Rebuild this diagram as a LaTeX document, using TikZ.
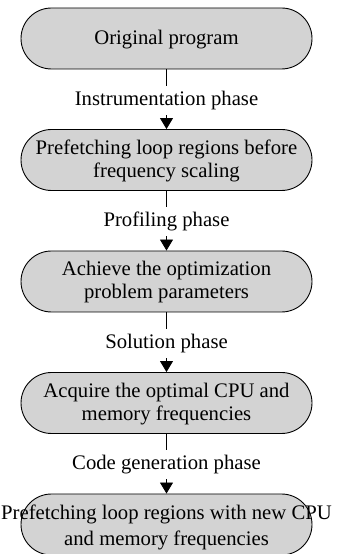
\documentclass[tikz,border=0pt]{standalone}
\usepackage{fontspec}
\setmainfont{Liberation Serif}
\usetikzlibrary{arrows.meta}
\definecolor{boxgray}{HTML}{D3D3D3}
\tikzset{
  x=1pt, y=1pt,
  phasebox/.style={draw=black, line width=0.9pt, fill=boxgray,
    rounded corners=30.5pt, minimum width=291pt, minimum height=61pt,
    inner sep=0pt},
  boxtext/.style={align=center, font=\fontsize{20.7}{23}\selectfont, inner sep=0pt},
  phaselabel/.style={fill=white, font=\fontsize{20.7}{23}\selectfont,
    inner xsep=2pt, inner ysep=5pt},
  flow/.style={draw=black, line width=0.8pt,
    -{Triangle[width=13pt,length=11pt]}},
}
\begin{document}
\begin{tikzpicture}
\useasboundingbox (0,0) rectangle (341,554);

% process stages
\node[phasebox] (b1) at (166.5,515.5) {};
\node[phasebox] (b2) at (166.5,394) {};
\node[phasebox] (b3) at (166.5,272.5) {};
\node[phasebox] (b4) at (166.5,151) {};
\node[phasebox] (b5) at (166.5,29.5) {};

\node[boxtext] (t1) at ([yshift=-1pt]b1) {Original program};
\node[boxtext] (t2) at ([yshift=-1pt]b2) {Prefetching loop regions before\\frequency scaling};
\node[boxtext] (t3) at ([yshift=-1pt]b3) {Achieve the optimization\\problem parameters};
\node[boxtext] (t4) at ([yshift=-1pt]b4) {Acquire the optimal CPU and\\memory frequencies};
\node[boxtext, font=\fontsize{20.7}{26}\selectfont] (t5) at ([yshift=-3pt]b5)
  {Prefetching loop regions with new CPU\\and memory frequencies};

% transitions between stages
\draw[flow] (b1.south) -- node[phaselabel, yshift=-1pt] (l1) {Instrumentation phase} (b2.north);
\draw[flow] (b2.south) -- node[phaselabel, yshift=-1pt] (l2) {Profiling phase} (b3.north);
\draw[flow] (b3.south) -- node[phaselabel, yshift=-1pt] (l3) {Solution phase} (b4.north);
\draw[flow] (b4.south) -- node[phaselabel, yshift=-1pt] (l4) {Code generation phase} (b5.north);
\end{tikzpicture}
\end{document}
